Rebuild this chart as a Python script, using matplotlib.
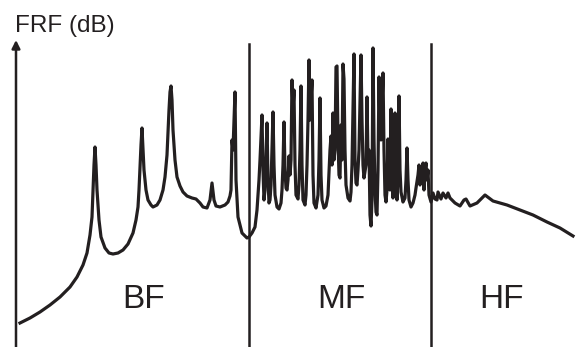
import matplotlib
matplotlib.use("Agg")
import matplotlib.pyplot as plt

# FRF level is read from the picture, measured downward from the top of the figure
# (the axis is inverted below). Frequency in arbitrary units, left to right.

# Low-frequency band (BF): a few isolated resonances
bf_freq = [20, 30, 40, 50, 60, 70, 77, 83, 87, 90, 92, 93, 94, 95, 96, 97, 99, 101, 105, 109,
           113, 118, 123, 128, 133, 136, 138, 139, 140, 141, 142, 143, 144, 146, 148, 151, 153,
           157, 160, 163, 165, 167, 168, 169, 170, 171, 172, 173, 175, 177, 180, 183, 187, 192,
           196, 200, 203, 207, 210, 212, 214, 216, 220, 225, 228, 230, 231, 232, 233, 235, 236,
           238, 242, 247]
bf_frf = [323, 318, 312, 305, 297, 287, 277, 265, 253, 235, 217, 190, 165, 147, 165, 190, 220,
          237, 248, 253, 254, 253, 250, 244, 233, 220, 207, 190, 167, 145, 128, 150, 170, 190,
          200, 205, 207, 205, 200, 190, 177, 155, 133, 110, 92, 86, 100, 130, 160, 177, 186, 192,
          196, 198, 199, 203, 207, 208, 200, 183, 200, 206, 207, 205, 202, 196, 190, 140, 150,
          92, 180, 217, 233, 238]

# Mid-frequency band (MF): dense overlapping resonances
mf_freq = [249, 252, 255, 257, 259, 260, 262, 263, 264, 265, 267, 268, 269, 270, 271, 273, 274,
           275, 277, 279, 281, 282, 283, 284, 285, 286, 287, 288, 289, 290, 291, 292, 293, 294,
           295, 296, 298, 299, 300, 301, 302, 303, 305, 306, 307, 308, 309, 310, 312, 313, 314,
           316, 318, 319, 320, 321, 322, 324, 326, 328, 330, 331, 332, 333, 334, 335, 336, 337,
           338, 339, 340, 341, 342, 343, 344, 345, 346, 348, 350, 351, 352, 354, 355, 356, 357,
           358, 359, 361, 362, 363, 364, 366, 367, 368, 369, 370, 371, 372, 373, 374, 375, 376,
           377, 378, 379, 380, 381, 383, 384, 385, 386, 387, 388, 389, 390, 391, 392, 393, 394,
           395, 396, 397, 398, 399, 400, 401, 403, 405, 406, 407, 408, 409, 411, 413, 415, 416,
           418, 419, 420, 421, 423, 424, 425, 426, 427, 428, 429, 431]
mf_frf = [237, 233, 227, 210, 180, 160, 115, 170, 200, 190, 123, 180, 203, 200, 185, 112, 165,
          195, 207, 209, 203, 190, 165, 122, 170, 188, 190, 180, 156, 175, 160, 80, 110, 90,
          165, 195, 199, 185, 150, 86, 165, 200, 205, 195, 165, 120, 60, 120, 80, 175, 203,
          208, 195, 160, 98, 175, 200, 208, 206, 195, 150, 136, 165, 113, 160, 150, 67, 66,
          140, 175, 178, 125, 160, 64, 79, 150, 185, 198, 201, 192, 165, 54, 160, 183, 185,
          170, 150, 55, 120, 165, 178, 165, 97, 160, 150, 215, 226, 200, 48, 140, 190, 212,
          215, 170, 77, 130, 140, 73, 150, 195, 202, 190, 139, 180, 190, 109, 180, 198, 180,
          113, 180, 200, 175, 96, 170, 192, 202, 198, 180, 148, 180, 200, 207, 203, 195, 188,
          175, 165, 185, 175, 163, 190, 170, 163, 180, 170, 195, 202]

# High-frequency band (HF): smooth, nearly modal-free response
hf_freq = [433, 435, 437, 438, 441, 443, 446, 448, 450, 455, 460, 464, 466, 470, 477, 485, 493,
           507, 520, 533, 547, 560, 573]
hf_frf = [193, 199, 200, 192, 199, 193, 198, 193, 198, 203, 206, 200, 199, 206, 203, 195, 201,
          205, 210, 215, 222, 228, 236]

# Band boundaries and band labels
band_edges = [249, 431]
band_names = ["BF", "MF", "HF"]
band_centres = [144, 341, 502]
y_label = "FRF (dB)"

ink = "#231f20"
fig = plt.figure(figsize=(5.87, 3.47), dpi=100)
ax = fig.add_axes([0, 0, 1, 1])
ax.set_xlim(0, 587)
ax.set_ylim(347, 0)
ax.axis("off")

freq = bf_freq + mf_freq + hf_freq
frf = bf_frf + mf_frf + hf_frf
ax.plot(freq, frf, color=ink, lw=2.3, solid_joinstyle="round", zorder=3)

for xe in band_edges:
    ax.plot([xe, xe], [44, 347], color=ink, lw=1.8, zorder=2)

ax.annotate("", xy=(16, 40), xytext=(16, 348),
            arrowprops=dict(arrowstyle="-|>", lw=1.8, color=ink,
                            mutation_scale=12, shrinkA=0, shrinkB=0))

ax.text(15, 26, y_label, fontsize=17.5, family="Liberation Sans", color=ink,
        ha="left", va="center")

for name, xc in zip(band_names, band_centres):
    ax.text(xc, 300, name, fontsize=24, family="Liberation Sans", color=ink,
            ha="center", va="center")

fig.savefig("out.png", dpi=100)
